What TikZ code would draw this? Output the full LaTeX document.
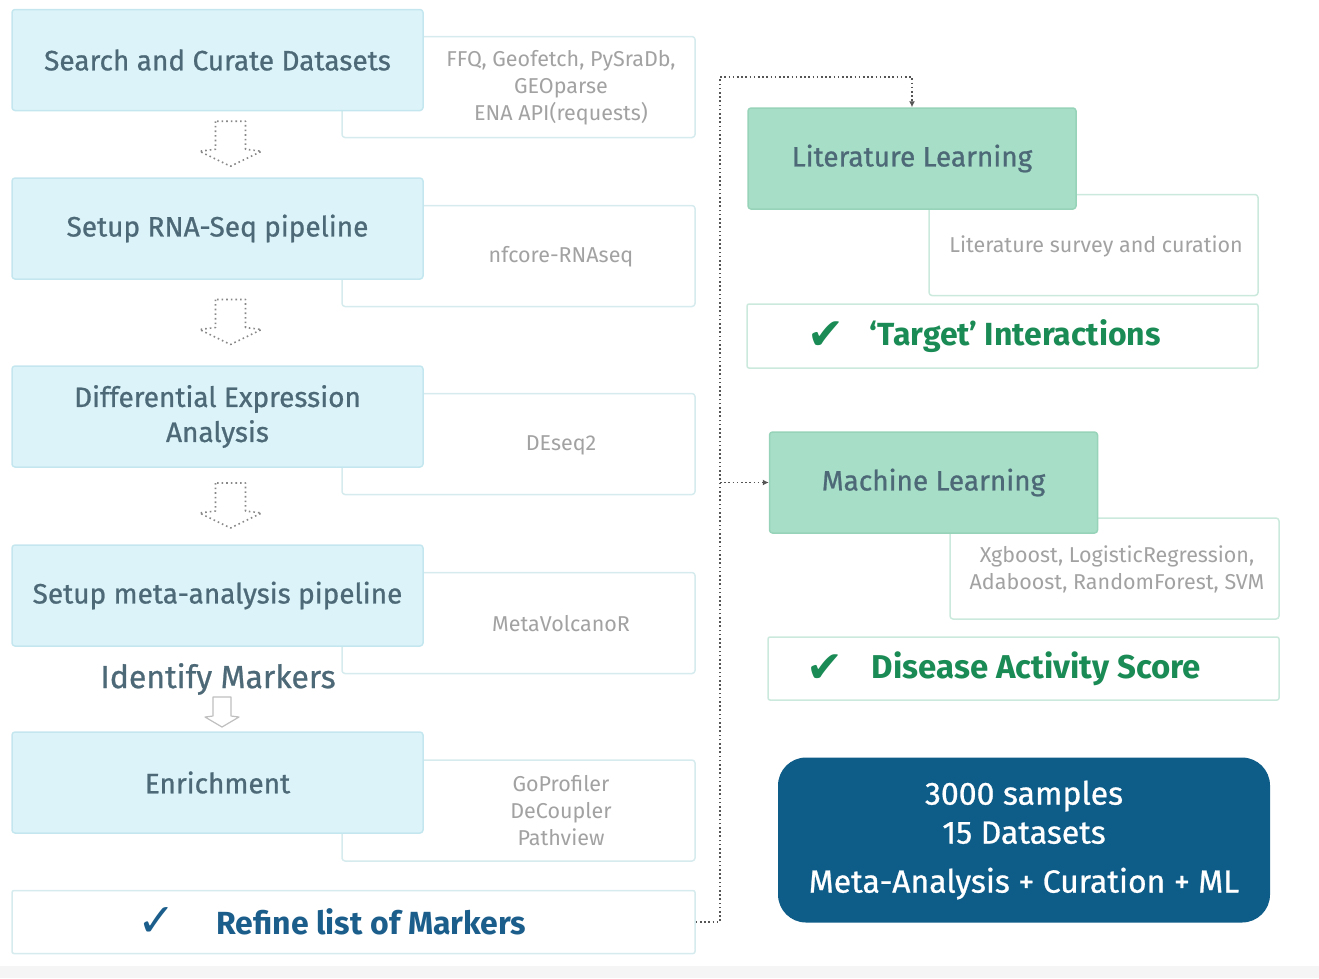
\documentclass[tikz,border=0pt]{standalone}
\usepackage{fontspec}
\setmainfont{Fira Sans}
\newfontfamily\medfont{Fira Sans}[FakeBold=0.8]
\newfontfamily\checkfont{DejaVu Sans}
\usetikzlibrary{arrows.meta,calc}
\definecolor{stepfill}{HTML}{DCF4F9}
\definecolor{stepline}{HTML}{C4E7EF}
\definecolor{steptext}{HTML}{4D6977}
\definecolor{toolline}{HTML}{D6EBED}
\definecolor{tooltext}{HTML}{A2A2A2}
\definecolor{mlfill}{HTML}{A7DEC7}
\definecolor{mlline}{HTML}{97D3B9}
\definecolor{mltool}{HTML}{CBEADD}
\definecolor{refineblue}{HTML}{1C5E8B}
\definecolor{okgreen}{HTML}{1B8B55}
\definecolor{summaryblue}{HTML}{0E5C88}
\definecolor{linkgray}{HTML}{555555}
\tikzset{
	stepbox/.style={draw=stepline,fill=stepfill,line width=1.5pt,rounded corners=3pt,minimum width=411pt,minimum height=101pt,text=steptext,align=center,font=\medfont\fontsize{28}{35}\selectfont},
	learnbox/.style={stepbox,draw=mlline,fill=mlfill,minimum width=328pt},
	toolbox/.style={draw=toolline,fill=white,line width=1.5pt,rounded corners=3pt,minimum width=353pt,minimum height=101pt},
	tooltxt/.style={text=tooltext,align=center,font=\fontsize{21.5}{27}\selectfont},
	resultbox/.style={draw=toolline,fill=white,line width=1.5pt,rounded corners=2pt,minimum height=63pt},
	bluecheck/.style={text=refineblue,font=\checkfont\fontsize{46}{46}\selectfont},
	greencheck/.style={text=okgreen,font=\checkfont\fontsize{44}{44}\selectfont},
	resulttxt/.style={font=\bfseries\fontsize{32}{36}\selectfont},
	link/.style={draw=linkgray,line width=1.6pt,dash pattern=on 1.6pt off 2.6pt,-{Latex[length=6pt,width=6pt]}},
	hollowarrow/.pic={\draw[draw=linkgray!70,line width=1.6pt,dash pattern=on 1.6pt off 3pt] (-15,-23) -- (-15,5) -- (-31,7) -- (0,22) -- (31,7) -- (15,5) -- (15,-23) -- cycle;},
	smallarrow/.pic={\draw[draw=black!25,line width=1.2pt] (-9,-15) -- (-9,4) -- (-17,5) -- (0,15) -- (17,5) -- (9,4) -- (9,-15) -- cycle;}
}
\begin{document}
\begin{tikzpicture}[x=1pt,y=-1pt,line join=round]
	\useasboundingbox (0,0) rectangle (1319,978);
	\fill[black!4] (0,966) rectangle (1319,978);
	\node[toolbox] (tsearch) at (518.5,87) {};
	\node[toolbox] (trnaseq) at (518.5,256) {};
	\node[toolbox] (tdeseq) at (518.5,444) {};
	\node[toolbox] (tmeta) at (518.5,623) {};
	\node[toolbox] (tenrich) at (518.5,810.5) {};
	\node[stepbox] (search) at (217.5,60) {Search and Curate Datasets};
	\node[stepbox] (rnaseq) at (217.5,228.5) {Setup RNA-Seq pipeline};
	\node[stepbox] (deseq) at (217.5,416.5) {Differential Expression\\Analysis};
	\node[stepbox] (meta) at (217.5,595.5) {Setup meta-analysis pipeline};
	\node[stepbox] (enrich) at (217.5,782.5) {Enrichment};
	\node[tooltxt] (ttsearch) at (561,88) {FFQ, Geofetch, PySraDb,\\GEOparse\\ENA API(requests)};
	\node[tooltxt] (ttrnaseq) at (561,257) {nfcore-RNAseq};
	\node[tooltxt] (ttdeseq) at (561,445) {DEseq2};
	\node[tooltxt] (ttmeta) at (561,624) {MetaVolcanoR};
	\node[tooltxt] (ttenrich) at (561,811) {GoProfiler\\DeCoupler\\Pathview};
	\foreach \Top/\Bot in {search/rnaseq,rnaseq/deseq,deseq/meta} \pic at ($(\Top.south)!0.5!(\Bot.north)+(13,0)$) {hollowarrow};
	\node[text=steptext,font=\medfont\fontsize{32}{36}\selectfont] (identify) at (218,679) {Identify Markers};
	\pic at (222,712) {smallarrow};
	\node[resultbox,minimum width=683pt] (refine) at (353.5,922) {};
	\node[bluecheck] (refinecheck) at (157,922) {✓};
	\node[resulttxt,text=refineblue] (refinetxt) at (371.5,922) {Refine list of Markers};
	\node[toolbox,draw=mltool,minimum width=329pt] (tlitl) at (1093.5,245) {};
	\node[learnbox] (litl) at (912,158.5) {Literature Learning};
	\node[tooltxt] (ttlitl) at (1096,246) {Literature survey and curation};
	\node[resultbox,draw=mltool,minimum width=511pt,minimum height=64pt] (target) at (1002.5,336) {};
	\node[greencheck] (targetcheck) at (826,336) {✔};
	\node[resulttxt,text=okgreen] (targettxt) at (1015,336) {‘Target’ Interactions};
	\node[toolbox,draw=mltool,minimum width=329pt] (tml) at (1114.5,568.5) {};
	\node[learnbox] (ml) at (933.5,482.5) {Machine Learning};
	\node[tooltxt] (ttml) at (1117,569) {Xgboost, LogisticRegression,\\Adaboost, RandomForest, SVM};
	\node[resultbox,draw=mltool,minimum width=511pt] (score) at (1023.5,668.5) {};
	\node[greencheck] (scorecheck) at (825,668.5) {✔};
	\node[resulttxt,text=okgreen,font=\bfseries\fontsize{33}{36}\selectfont] (scoretxt) at (1036.5,668.5) {Disease Activity Score};
	\node[fill=summaryblue,rounded corners=28pt,minimum width=492pt,minimum height=165pt,text=white,align=center,font=\medfont\fontsize{32}{39}\selectfont] (summary) at (1024,840) {3000 samples\\15 Datasets\\[10pt]Meta-Analysis + Curation + ML};
	\coordinate (bend) at (720,77);
	\draw[link] (refine.east) -| (bend) -| (litl.north);
	\draw[link] (ml.west -| bend) -- (ml.west);
\end{tikzpicture}
\end{document}
